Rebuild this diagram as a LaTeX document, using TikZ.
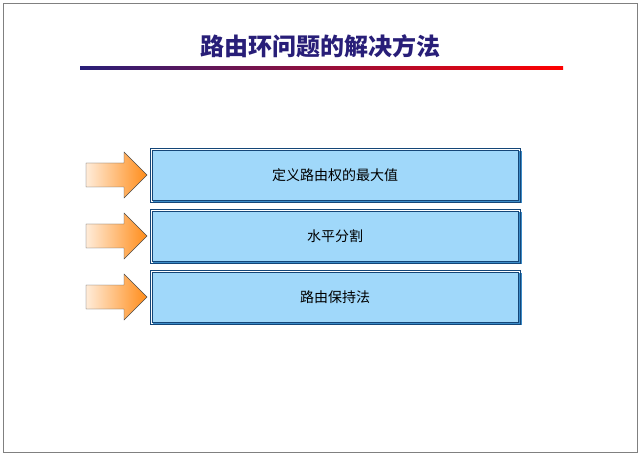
\documentclass[tikz,border=0pt]{standalone}
\usepackage{fontspec}
\newfontfamily\cjk{Noto Sans CJK SC}
\usetikzlibrary{positioning}
\definecolor{boxfill}{RGB}{160,216,250}
\definecolor{boxedge}{RGB}{20,70,120}
\definecolor{bevel}{RGB}{60,140,200}
\definecolor{titleblue}{RGB}{40,30,120}
\tikzset{
  stepbox/.style={draw=boxedge,fill=boxfill,minimum width=366pt,minimum height=50pt,
    font=\cjk\fontsize{14}{16}\selectfont,inner sep=0pt},
  pointer/.style={draw=black!70,left color=orange!15,right color=orange!90}
}
\begin{document}
\begin{tikzpicture}[x=1pt,y=-1pt]
  \useasboundingbox (0,0) rectangle (640,457);
  \draw[black!50] (3,3) rectangle (637,452);

  % title
  \node (title) [text=titleblue] at (320,46) {\cjk\bfseries\fontsize{24}{26}\selectfont 路由环问题的解决方法};
  \shade[left color=titleblue,right color=red] (80,66.5) rectangle (563,69.5);

  % boxes and pointers
  \foreach \y/\name/\txt in {175/max/定义路由权的最大值,236/split/水平分割,297/hold/路由保持法} {
    \fill[bevel] (153,\y-24) -- (522,\y-24) -- (522,\y+28) -- (153,\y+28) -- cycle;
    \draw[boxedge] (150,\y-27) rectangle (520,\y+27);
    \node (\name) [stepbox] at (335,\y) {\txt};
    \draw[pointer] (86,\y-12) -- (124,\y-12) -- (124,\y-23) -- (147,\y) -- (124,\y+23)
      -- (124,\y+12) -- (86,\y+12) -- cycle;
  }
\end{tikzpicture}
\end{document}
